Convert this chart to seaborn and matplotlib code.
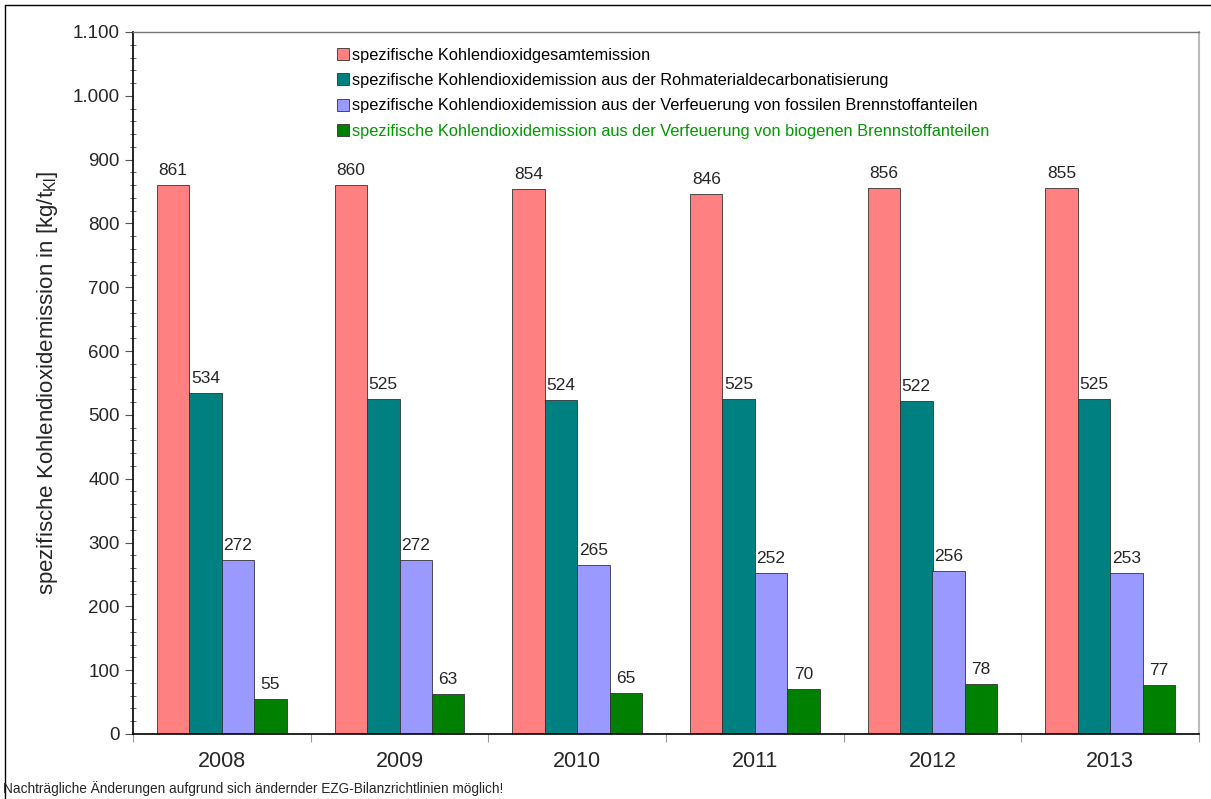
import matplotlib
matplotlib.use("Agg")
import matplotlib.pyplot as plt
import seaborn as sns
import pandas as pd
import numpy as np
from matplotlib.ticker import MultipleLocator, FuncFormatter
from matplotlib.lines import Line2D

years = ["2008", "2009", "2010", "2011", "2012", "2013"]
series_names = [
    "spezifische Kohlendioxidgesamtemission",
    "spezifische Kohlendioxidemission aus der Rohmaterialdecarbonatisierung",
    "spezifische Kohlendioxidemission aus der Verfeuerung von fossilen Brennstoffanteilen",
    "spezifische Kohlendioxidemission aus der Verfeuerung von biogenen Brennstoffanteilen",
]
gesamt = [861, 860, 854, 846, 856, 855]
rohmaterial = [534, 525, 524, 525, 522, 525]
fossil = [272, 272, 265, 252, 256, 253]
biogen = [55, 63, 65, 70, 78, 77]
colors = ["#FF8080", "#008080", "#9999FF", "#008000"]
legend_text_colors = ["black", "black", "black", "#009900"]

rows = []
for name, vals in zip(series_names, [gesamt, rohmaterial, fossil, biogen]):
    for y, v in zip(years, vals):
        rows.append({"Jahr": y, "Serie": name, "Wert": v})
df = pd.DataFrame(rows)

sns.set_style("white")
plt.rcParams["font.family"] = ["Liberation Sans", "DejaVu Sans"]

fig = plt.figure(figsize=(12.11, 7.99), dpi=100)
ax = fig.add_axes([133 / 1211, 1 - 734 / 799, (1199 - 133) / 1211, (734 - 32) / 799])

sns.barplot(data=df, x="Jahr", y="Wert", hue="Serie", hue_order=series_names,
            palette=colors, width=0.73, ax=ax, edgecolor="#333333", linewidth=0.6,
            saturation=1, legend=False)

for cont in ax.containers:
    ax.bar_label(cont, labels=[f"{int(v)}" for v in cont.datavalues], padding=5, fontsize=12.5)

ax.set_ylim(0, 1100)
ax.set_xlim(-0.5, 5.5)
ax.yaxis.set_major_locator(MultipleLocator(100))
ax.yaxis.set_minor_locator(MultipleLocator(20))
ax.yaxis.set_major_formatter(FuncFormatter(lambda v, p: f"{int(v):,}".replace(",", ".")))
ax.tick_params(axis="y", which="major", direction="out", length=6, width=0.8, labelsize=13.5, left=True, color="#555555")
ax.tick_params(axis="y", which="minor", direction="inout", length=5, width=0.6, left=True, color="#555555")
ax.set_xticks(np.arange(-0.5, 6.0, 1.0), minor=True)
ax.tick_params(axis="x", which="major", length=0, labelsize=15.5, pad=12)
ax.tick_params(axis="x", which="minor", direction="out", length=6, width=0.8, color="#999999", bottom=True)
ax.set_xlabel("")
ax.set_ylabel(r"spezifische Kohlendioxidemission in [kg/t$_{\mathregular{Kl}}$]", fontsize=16, labelpad=9)

for s in ["left", "bottom"]:
    ax.spines[s].set_color("black")
    ax.spines[s].set_linewidth(1.2)
ax.spines["top"].set_color("#777777")
ax.spines["top"].set_linewidth(1.0)
ax.spines["right"].set_color("#BBBBBB")
ax.spines["right"].set_linewidth(1.5)

handles = [Line2D([0], [0], marker="s", linestyle="none", markerfacecolor=c,
                  markeredgecolor="#333333", markeredgewidth=0.6, markersize=8) for c in colors]
leg = ax.legend(handles, series_names, loc="upper left", bbox_to_anchor=(0.185, 0.987),
                frameon=False, fontsize=11.8, handlelength=0.7, handletextpad=0.2,
                labelspacing=0.63, borderaxespad=0)
for t, c in zip(leg.get_texts(), legend_text_colors):
    t.set_color(c)

fig.text(3 / 1211, 1 - 789 / 799, "Nachträgliche Änderungen aufgrund sich ändernder EZG-Bilanzrichtlinien möglich!",
         fontsize=9.85, va="center", ha="left")

fig.add_artist(Line2D([5 / 1211, 5 / 1211], [0, 1 - 5 / 799], transform=fig.transFigure, color="black", lw=1))
fig.add_artist(Line2D([5 / 1211, 1], [1 - 5 / 799, 1 - 5 / 799], transform=fig.transFigure, color="black", lw=1))

fig.savefig("out.png", dpi=100)
